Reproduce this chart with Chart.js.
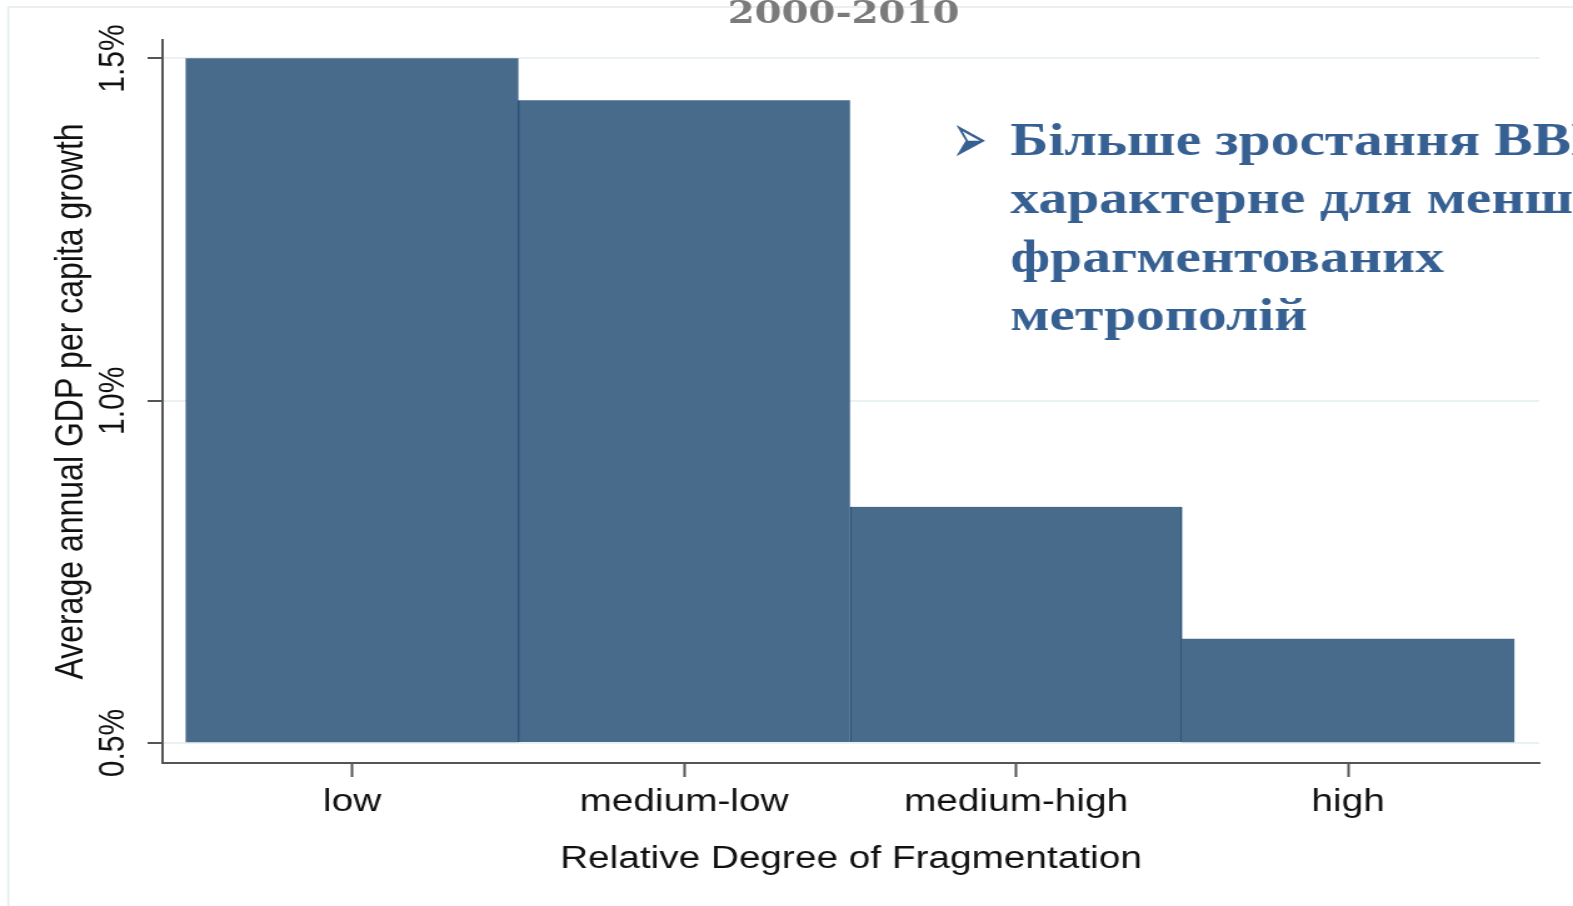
<!DOCTYPE html>
<html>
<head>
<meta charset="utf-8">
<script src="https://cdn.jsdelivr.net/npm/chart.js@4.4.1/dist/chart.umd.min.js"></script>
<style>
  html, body { margin: 0; padding: 0; background: #fff; overflow: hidden; }
  /* the source picture is stretched sideways, so the whole canvas is too */
  #wrap { width: 1258px; height: 906px; transform: scaleX(1.2504); transform-origin: 0 0; }
</style>
</head>
<body>
<div id="wrap"><canvas id="myChart" width="1258" height="906"></canvas></div>
<script>
const categories = ["low", "medium-low", "medium-high", "high"];
const growth = [1.5, 1.439, 0.845, 0.652];
const yTicks = [0.5, 1.0, 1.5];
const barBase = 0.5;
const period = "2000-2010";
const note = ["Більше зростання ВВП", "характерне для менш", "фрагментованих", "метрополій"];

Chart.defaults.font.family = "'Liberation Sans', Arial, sans-serif";
Chart.defaults.color = "#111";

// dark outline only between neighbouring bars
const edges = [
  { left: 0, right: 0, top: 0, bottom: 0 },
  { left: 1.5, right: 0, top: 0, bottom: 0 },
  { left: 1.5, right: 1.5, top: 0, bottom: 0 },
  { left: 0, right: 0, top: 0, bottom: 0 },
];

const notePlugin = {
  id: "notePlugin",
  afterDraw(chart) {
    const c = chart.ctx;
    c.save();
    // faint slide frame
    c.strokeStyle = "#e3ebeb";
    c.lineWidth = 1.5;
    c.beginPath();
    c.moveTo(6.5, 906);
    c.lineTo(6.5, 7);
    c.lineTo(1258, 7);
    c.stroke();

    c.fillStyle = "#7a7a7a";
    c.font = "bold 31px 'DejaVu Serif'";
    c.textAlign = "center";
    c.textBaseline = "alphabetic";
    c.fillText(period, 674.6, 23);

    c.fillStyle = "#376092";
    c.textAlign = "left";
    c.font = "bold 46px 'Liberation Serif'";
    note.forEach((line, i) => c.fillText(line, 808, 155 + i * 58.3));

    // bullet, drawn taller than the font gives it
    c.translate(761, 163);
    c.scale(1, 2.1);
    c.font = "34px 'DejaVu Sans'";
    c.fillText("➢", 0, 0);
    c.restore();
  },
};

const ctx = document.getElementById("myChart");
const chart = new Chart(ctx, {
  type: "bar",
  data: {
    datasets: [
      {
        data: categories.map((c, i) => ({ x: i + 1, y: growth[i] })),
        base: barBase,
        backgroundColor: "#486b8c",
        borderColor: "#2a5277",
        borderWidth: (c) => edges[c.dataIndex],
        borderSkipped: false,
        barPercentage: 1,
        categoryPercentage: 1,
      },
    ],
  },
  options: {
    responsive: false,
    animation: false,
    events: [],
    layout: { padding: { top: 40, right: 27, bottom: 0, left: 0 } },
    plugins: {
      legend: { display: false },
      tooltip: { enabled: false },
    },
    scales: {
      x: {
        type: "linear",
        offset: false,
        min: 0.4294,
        max: 4.576,
        afterBuildTicks: (s) => {
          s.ticks = categories.map((c, i) => ({ value: i + 1 }));
        },
        afterFit: (s) => {
          s.height = 143;
        },
        grid: { offset: false, drawOnChartArea: false, tickLength: 14, tickColor: "#555", tickWidth: 2 },
        border: { color: "#555", width: 2 },
        ticks: {
          callback: (v, i) => categories[i],
          font: { size: 31 },
          padding: 6.5,
          maxRotation: 0,
          autoSkip: false,
        },
        title: {
          display: true,
          text: "Relative Degree of Fragmentation",
          font: { size: 31 },
          padding: { top: 0, bottom: 28.4 },
        },
      },
      y: {
        min: 0.4708,
        max: 1.527,
        afterBuildTicks: (s) => {
          s.ticks = yTicks.map((v) => ({ value: v }));
        },
        afterFit: (s) => {
          s.width = 130;
        },
        grid: { color: "#eaf1f2", lineWidth: 2, tickLength: 12, tickColor: "#555", tickWidth: 2 },
        border: { color: "#555", width: 2 },
        ticks: {
          minRotation: 90,
          maxRotation: 90,
          crossAlign: "center",
          padding: -7.4,
          font: { size: 30 },
          callback: (v) => v.toFixed(1) + "%",
        },
        title: {
          display: true,
          text: "Average annual GDP per capita growth",
          font: { size: 32 },
          padding: { top: 37.6, bottom: 0 },
        },
      },
    },
  },
  plugins: [notePlugin],
});
</script>
</body>
</html>
